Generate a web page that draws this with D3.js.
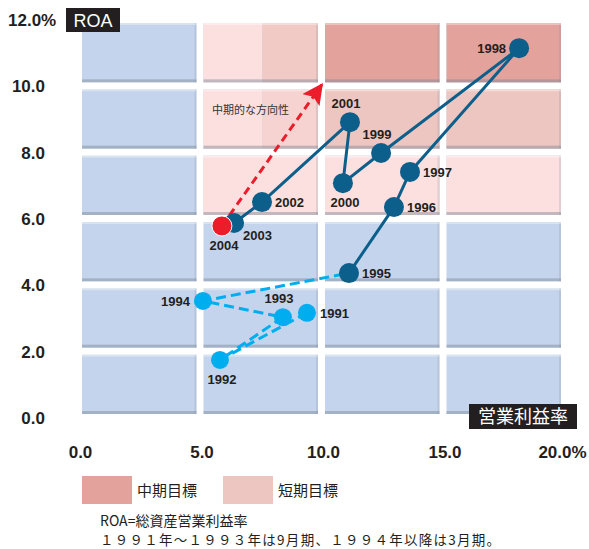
<!DOCTYPE html>
<html>
<head>
<meta charset="utf-8" />
<script src="https://d3js.org/d3.v7.min.js"></script>
<style>
  body { margin: 0; background: #fff; }
  svg text { font-family: "Liberation Sans", Arial, sans-serif; }
  .jp { font-family: "Noto Sans CJK JP", "Noto Sans", sans-serif; }
</style>
</head>
<body>
<div id="chart"></div>
<script>

// data (operating margin %, ROA %)
var years   = ["1991","1992","1993","1994","1995","1996","1997","1998","1999","2000","2001","2002","2003","2004"];
var margin_ = [9.34, 5.76, 8.35, 5.06, 11.07, 12.92, 13.58, 18.07, 12.39, 10.82, 11.11, 7.49, 6.34, 5.84];
var roa     = [3.17, 1.75, 3.04, 3.53, 4.37, 6.36, 7.42, 11.15, 7.99, 7.08, 8.92, 6.51, 5.88, 5.79];
// label side for each year
var labelSide = ["right","below","above","left","right","right","right","left","above","below","above","right","belowright","below"];

var xTicks = [0, 5, 10, 15, 20];
var xTickLabels = ["0.0", "5.0", "10.0", "15.0", "20.0%"];
var yTicks = [0, 2, 4, 6, 8, 10, 12];
var yTickLabels = ["0.0", "2.0", "4.0", "6.0", "8.0", "10.0", "12.0"];

// target zones: [x0, x1, y0, y1, kind]
var zones = [
  [5, 7.5, 10, 12, "light"], [7.5, 10, 10, 12, "pinkA"], [10, 15, 10, 12, "mid"], [15, 20, 10, 12, "mid"],
  [5, 7.5, 8, 10, "light"], [7.5, 10, 8, 10, "pinkB"], [10, 15, 8, 10, "short"], [15, 20, 8, 10, "short"],
  [5, 10, 6, 8, "light"], [10, 15, 6, 8, "light"], [15, 20, 6, 8, "light"]
];
var arrowEnd = [9.95, 10.05];

var W = 589, H = 549;
var svg = d3.select("#chart").append("svg").attr("width", W).attr("height", H);

var x = d3.scaleLinear().domain([0, 20]).range([80, 566]);
var y = d3.scaleLinear().domain([0, 12]).range([418, 20]);

var colors = {
  blue: "#c4d4ec", light: "#fcdfdf", pinkA: "#f2cac5", pinkB: "#f6d3d0",
  short: "#eec6c1", mid: "#e3a29c"
};

var defs = svg.append("defs");
defs.append("filter").attr("id", "soft")
  .append("feGaussianBlur").attr("stdDeviation", 0.6);
defs.append("marker").attr("id", "arrow")
  .attr("viewBox", "0 0 10 10").attr("refX", 9).attr("refY", 5)
  .attr("markerWidth", 7).attr("markerHeight", 7).attr("markerUnits", "strokeWidth")
  .attr("orient", "auto")
  .append("path").attr("d", "M0,0 L10,5 L0,10 L2,5 Z").attr("fill", "#ec1c2a");

// grid cells
var cells = [];
for (var c = 0; c < 4; c++) {
  for (var r = 0; r < 6; r++) cells.push({c0: c * 5, r0: r * 2});
}
var cellG = svg.append("g");
cells.forEach(function(d) {
  var x0 = x(d.c0) + 2, x1 = x(d.c0 + 5) - 5;
  var y0 = y(d.r0 + 2) + 3, y1 = y(d.r0) - 4;
  cellG.append("rect").attr("x", x0).attr("y", y0).attr("width", x1 - x0).attr("height", y1 - y0)
    .attr("fill", colors.blue);
});
zones.forEach(function(z) {
  var x0 = x(z[0]) + (z[0] % 5 === 0 ? 2 : 0), x1 = x(z[1]) - (z[1] % 5 === 0 ? 5 : 0);
  var y0 = y(z[3]) + 3, y1 = y(z[2]) - 4;
  cellG.append("rect").attr("x", x0).attr("y", y0).attr("width", x1 - x0).attr("height", y1 - y0)
    .attr("fill", colors[z[4]]);
});
// cell shading: bottom and right shadow
cells.forEach(function(d) {
  var x0 = x(d.c0) + 2, x1 = x(d.c0 + 5) - 5;
  var y0 = y(d.r0 + 2) + 3, y1 = y(d.r0) - 4;
  cellG.append("rect").attr("x", x0).attr("y", y1 - 3).attr("width", x1 - x0).attr("height", 3)
    .attr("fill", "#7d8796").attr("opacity", 0.45).attr("filter", "url(#soft)");
  cellG.append("rect").attr("x", x1 - 2).attr("y", y0).attr("width", 2).attr("height", y1 - y0)
    .attr("fill", "#7d8796").attr("opacity", 0.2).attr("filter", "url(#soft)");
  cellG.append("rect").attr("x", x0).attr("y", y0).attr("width", x1 - x0).attr("height", 2)
    .attr("fill", "#fff").attr("opacity", 0.35);
});

// axes
var yAxis = svg.append("g").attr("transform", "translate(54,0)")
  .call(d3.axisLeft(y).tickValues(yTicks).tickSize(0).tickPadding(9)
    .tickFormat(function(d, i) { return yTickLabels[i]; }));
yAxis.select(".domain").remove();
yAxis.selectAll("text").style("font-size", "17px").style("font-weight", "bold")
  .style("font-family", "Liberation Sans, Arial, sans-serif").attr("fill", "#231f20");
yAxis.selectAll(".tick").filter(function(d) { return d === 12; }).select("text")
  .append("tspan").text("%");
yAxis.selectAll(".tick").filter(function(d) { return d === 12; }).select("text")
  .attr("text-anchor", "start").attr("x", -46);

var xAxis = svg.append("g").attr("transform", "translate(0,440)")
  .call(d3.axisBottom(x).tickValues(xTicks).tickSize(0).tickPadding(6)
    .tickFormat(function(d, i) { return xTickLabels[i]; }));
xAxis.select(".domain").remove();
xAxis.selectAll("text").style("font-size", "17px").style("font-weight", "bold")
  .style("font-family", "Liberation Sans, Arial, sans-serif").attr("fill", "#231f20");
xAxis.selectAll(".tick").filter(function(d) { return d === 20; }).select("text")
  .attr("dx", "-4");

// axis title boxes
svg.append("rect").attr("x", 66).attr("y", 8).attr("width", 54).attr("height", 24).attr("fill", "#231f20");
svg.append("text").attr("x", 93).attr("y", 27).attr("text-anchor", "middle")
  .attr("fill", "#fff").style("font-size", "18px").text("ROA");
svg.append("rect").attr("x", 469).attr("y", 404).attr("width", 108).attr("height", 25).attr("fill", "#231f20");
svg.append("text").attr("class", "jp").attr("x", 523).attr("y", 423).attr("text-anchor", "middle")
  .attr("fill", "#fff").style("font-size", "18px").text("営業利益率");

// direction arrow
var i04 = years.indexOf("2004");
svg.append("line")
  .attr("x1", x(margin_[i04])).attr("y1", y(roa[i04]))
  .attr("x2", x(arrowEnd[0])).attr("y2", y(arrowEnd[1]))
  .attr("stroke", "#ec1c2a").attr("stroke-width", 3).attr("stroke-dasharray", "8,5")
  .attr("marker-end", "url(#arrow)");
svg.append("text").attr("class", "jp").attr("x", 212).attr("y", 114)
  .attr("fill", "#333").style("font-size", "11px").text("中期的な方向性");

// series lines
var pts = years.map(function(yr, i) { return {year: yr, x: margin_[i], y: roa[i], side: labelSide[i]}; });
var line = d3.line().x(function(d) { return x(d.x); }).y(function(d) { return y(d.y); });

svg.append("path").datum(pts.slice(0, 5)).attr("d", line)
  .attr("fill", "none").attr("stroke", "#00aeef").attr("stroke-width", 3)
  .attr("stroke-dasharray", "10,5");
svg.append("path").datum(pts.slice(4, 13)).attr("d", line)
  .attr("fill", "none").attr("stroke", "#0b5f8a").attr("stroke-width", 3)
  .attr("stroke-linejoin", "round");

svg.append("g").selectAll("circle").data(pts).enter().append("circle")
  .attr("cx", function(d) { return x(d.x); })
  .attr("cy", function(d) { return y(d.y); })
  .attr("r", function(d, i) { return i < 4 ? 9 : 10; })
  .attr("fill", function(d, i) { return i < 4 ? "#00aeef" : (d.year === "2004" ? "#ec1c2a" : "#0b5f8a"); })
  .attr("stroke", function(d) { return d.year === "2004" ? "#fff" : "none"; })
  .attr("stroke-width", 1);

// labels
var off = {
  right: [13, 5, "start"], left: [-13, 5, "end"], above: [-4, -14, "middle"],
  below: [2, 24, "middle"], belowright: [9, 17, "start"]
};
svg.append("g").selectAll("text").data(pts).enter().append("text")
  .attr("x", function(d) { return x(d.x) + off[d.side][0]; })
  .attr("y", function(d) { return y(d.y) + off[d.side][1]; })
  .attr("text-anchor", function(d) { return off[d.side][2]; })
  .attr("fill", "#231f20").style("font-size", "13px").style("font-weight", "bold")
  .text(function(d) { return d.year; });

// legend
var legend = [["中期目標", "mid"], ["短期目標", "short"]];
legend.forEach(function(l, i) {
  var lx = 82 + i * 141;
  svg.append("rect").attr("x", lx).attr("y", 476).attr("width", 50).attr("height", 28)
    .attr("fill", colors[l[1]]).attr("filter", "url(#soft)");
  svg.append("text").attr("class", "jp").attr("x", lx + 55).attr("y", 496)
    .attr("fill", "#231f20").style("font-size", "15px").text(l[0]);
});
svg.append("text").attr("class", "jp").attr("x", 100).attr("y", 526)
  .attr("fill", "#231f20").style("font-size", "14px").text("ROA=総資産営業利益率");
svg.append("text").attr("class", "jp").attr("x", 100).attr("y", 545)
  .attr("fill", "#231f20").style("font-size", "13.5px")
  .attr("textLength", 400).attr("lengthAdjust", "spacing")
  .text("１９９１年～１９９３年は9月期、１９９４年以降は3月期。");

</script>
</body>
</html>
